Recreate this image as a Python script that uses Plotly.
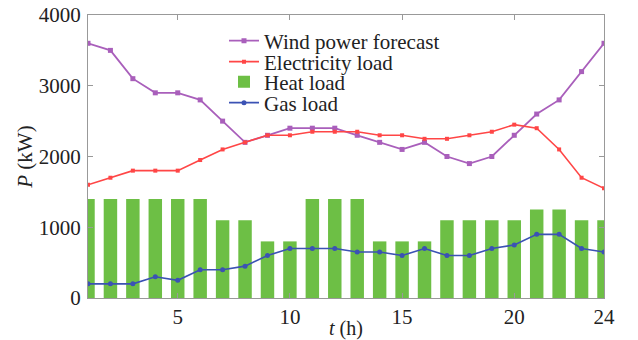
import plotly.graph_objects as go

hours = list(range(1, 25))
wind_forecast = [3600, 3500, 3100, 2900, 2900, 2800, 2500, 2200, 2300, 2400, 2400, 2400,
                 2300, 2200, 2100, 2200, 2000, 1900, 2000, 2300, 2600, 2800, 3200, 3600]
electricity_load = [1600, 1700, 1800, 1800, 1800, 1950, 2100, 2200, 2300, 2300, 2350, 2350,
                    2350, 2300, 2300, 2250, 2250, 2300, 2350, 2450, 2400, 2100, 1700, 1550]
heat_load = [1400, 1400, 1400, 1400, 1400, 1400, 1100, 1100, 800, 800, 1400, 1400,
             1400, 800, 800, 800, 1100, 1100, 1100, 1100, 1250, 1250, 1100, 1100]
gas_load = [200, 200, 200, 300, 250, 400, 400, 450, 600, 700, 700, 700,
            650, 650, 600, 700, 600, 600, 700, 750, 900, 900, 700, 650]
x_ticks = [5, 10, 15, 20, 24]
y_ticks = [0, 1000, 2000, 3000, 4000]

font_family = "Liberation Serif"

fig = go.Figure()
fig.add_trace(go.Bar(x=hours, y=heat_load, name="Heat load", width=0.6, legend="legend3",
                     marker=dict(color="#6dbf45", line=dict(width=0))))
fig.add_trace(go.Scatter(x=hours, y=wind_forecast, name="Wind power forecast", mode="lines+markers",
                         legend="legend",
                         line=dict(color="#a95fbb", width=1.8),
                         marker=dict(symbol="square", size=5, color="#a95fbb")))
fig.add_trace(go.Scatter(x=hours, y=electricity_load, name="Electricity load", mode="lines+markers",
                         legend="legend2",
                         line=dict(color="#ff4646", width=1.6),
                         marker=dict(symbol="square", size=4, color="#ff4646")))
fig.add_trace(go.Scatter(x=hours, y=gas_load, name="Gas load", mode="lines+markers",
                         legend="legend4",
                         line=dict(color="#3b52b4", width=1.6),
                         marker=dict(symbol="circle", size=5, color="#3b52b4")))

# plot area: x 88..604 px, y 15..298 px
def leg(center_px):
    return dict(x=(224 - 88) / 516, y=(298 - center_px) / 283, xanchor="left", yanchor="middle",
                bgcolor="rgba(0,0,0,0)", font=dict(size=21, family=font_family, color="#222"),
                itemwidth=30)

fig.update_layout(
    width=638, height=340,
    margin=dict(l=88, r=34, t=15, b=42, autoexpand=False),
    paper_bgcolor="white", plot_bgcolor="white",
    font=dict(family=font_family, size=21, color="#222"),
    showlegend=True,
    legend=leg(41), legend2=leg(62), legend3=leg(82), legend4=leg(103),
    bargap=0.4,
)
fig.update_xaxes(range=[1, 24], tickvals=x_ticks, ticks="inside", ticklen=5,
                 tickcolor="#999", showline=True, linecolor="#999", linewidth=1.2, mirror="ticks",
                 showgrid=False, zeroline=False, ticklabelstandoff=0, automargin=False,
                 title=dict(text="<i>t</i> (h)", standoff=0, font=dict(size=20)))
fig.update_yaxes(range=[0, 4000], tickvals=y_ticks, ticks="inside", ticklen=5,
                 tickcolor="#999", showline=True, linecolor="#999", linewidth=1.2, mirror="ticks",
                 showgrid=False, zeroline=False, ticklabelstandoff=2, automargin=False,
                 title=dict(text="<i>P</i> (kW)", standoff=0, font=dict(size=21)))

fig.write_html("out.html", config={"displayModeBar": False},
               post_script="document.body.style.margin='0';")
